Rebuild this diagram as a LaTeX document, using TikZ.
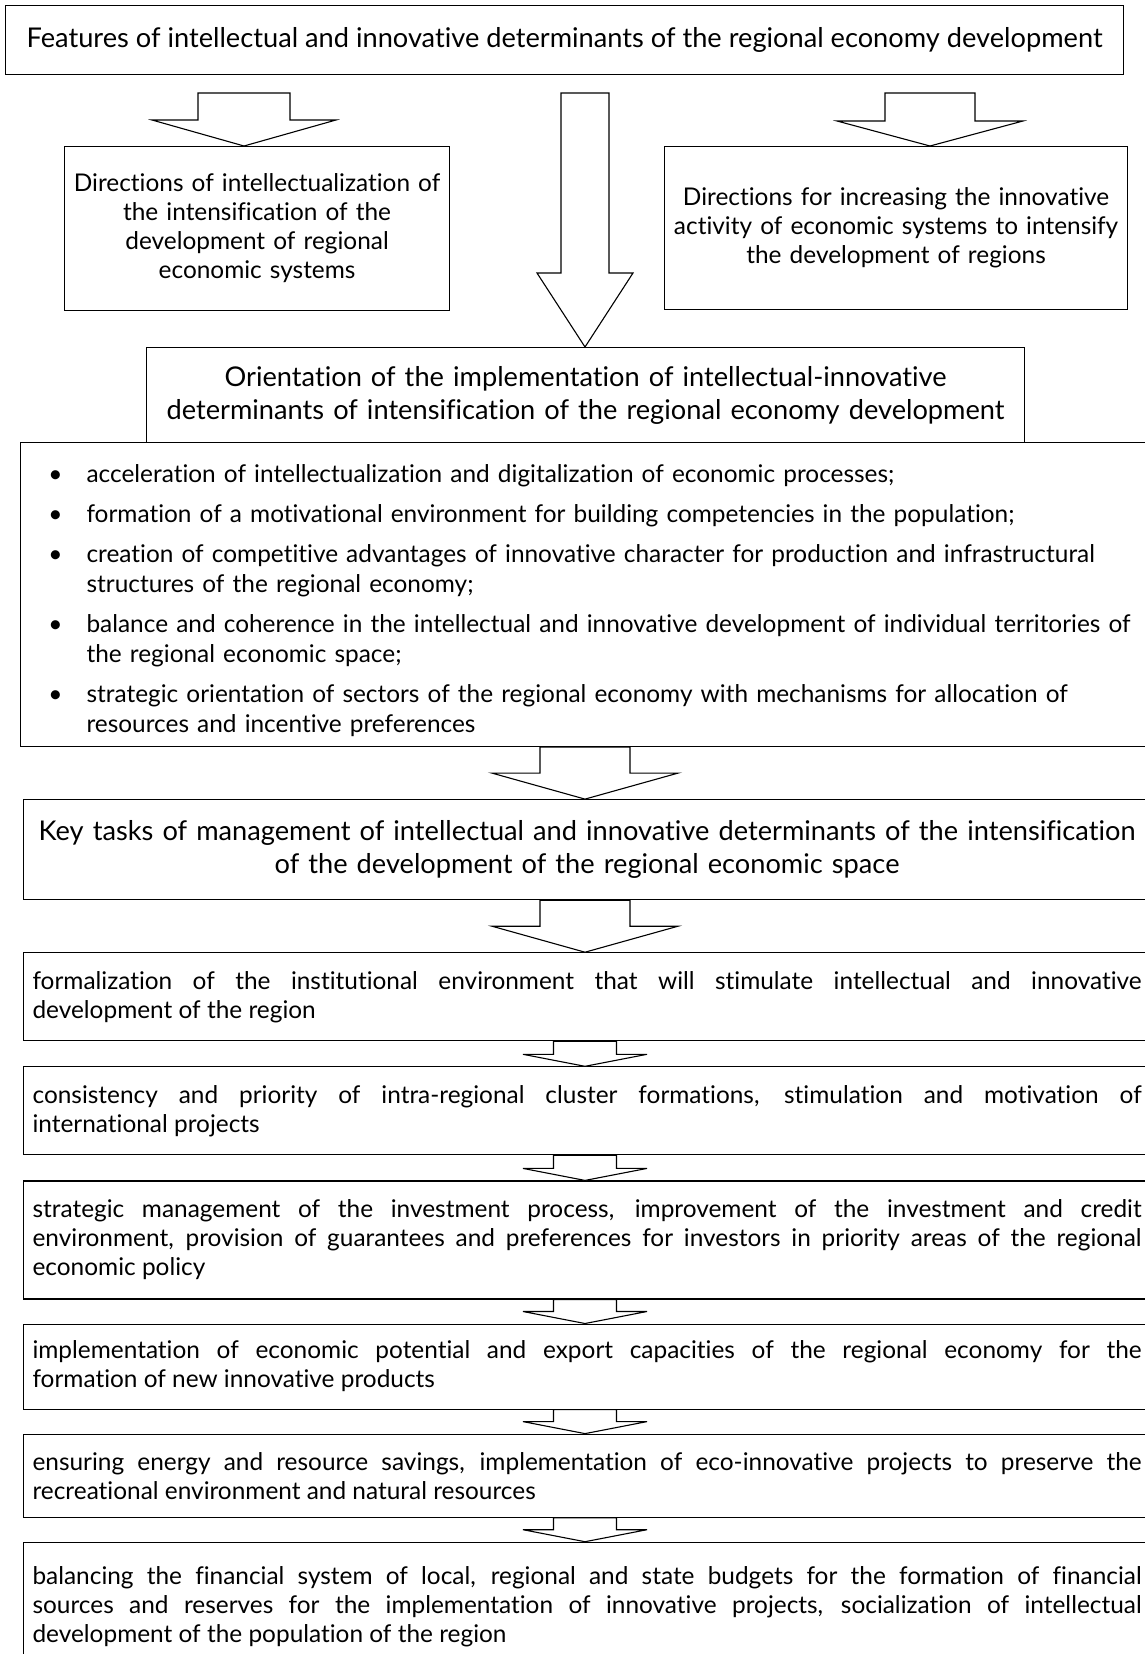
\documentclass[tikz,border=0pt]{standalone}
\usepackage{fontspec}
\setmainfont{Lato}[Ligatures=NoCommon]
\usepackage{enumitem}
\usetikzlibrary{calc,positioning,math}
\hyphenpenalty=10000
\exhyphenpenalty=10000

% block arrow: top point, tip point, half body, half head, head length
\newcommand{\blockarrow}[5]{%
  \draw[arrowline] ($(#1)+(-#3,0)$) -- ($(#2)+(-#3,#5)$) -- ($(#2)+(-#4,#5)$) -- (#2)
    -- ($(#2)+(#4,#5)$) -- ($(#2)+(#3,#5)$) -- ($(#1)+(#3,0)$) -- cycle;}

\begin{document}
\begin{tikzpicture}[x=1pt,y=1pt]

\tikzmath{
	\mx = 585;
}

\tikzset{
  box/.style={draw, line width=1.1pt, inner sep=0pt, align=center, anchor=north west},
  headfont/.style={font=\fontsize{27.2}{33}\selectfont},
  bodyfont/.style={font=\fontsize{24.4}{29}\selectfont},
  task/.style={box, bodyfont, minimum width=1127, text width=1109, inner xsep=8pt, align=justify},
  arrowline/.style={draw, fill=white, line width=1.1pt, line join=miter}
}

\useasboundingbox (0,0) rectangle (1145,-1654);

\node[box, headfont, minimum width=1118, minimum height=69] (feat) at (5,-5)
  {Features of intellectual and innovative determinants of the regional economy development};

\node[box, bodyfont, minimum width=385, minimum height=164, text width=380] (dirL) at (64,-146)
  {Directions of intellectualization of\\ the intensification of the\\ development of regional\\ economic systems};

\node[box, bodyfont, minimum width=463, minimum height=163, text width=460] (dirR) at (664,-146)
  {Directions for increasing the innovative\\ activity of economic systems to intensify\\ the development of regions};

\node[box, headfont, minimum width=878, minimum height=95, text width=870] (orient) at (146,-347)
  {Orientation of the implementation of intellectual-innovative\\ determinants of intensification of the regional economy development};

\node[box, font=\fontsize{24.4}{30}\selectfont, minimum width=1130, minimum height=304, text width=1130, align=left] (list) at (20,-442)
  {\begin{itemize}[leftmargin=66pt, labelsep=24pt, itemsep=10pt, topsep=0pt, partopsep=0pt, parsep=0pt]
   \item acceleration of intellectualization and digitalization of economic processes;
   \item formation of a motivational environment for building competencies in the population;
   \item creation of competitive advantages of innovative character for production and infrastructural\newline structures of the regional economy;
   \item balance and coherence in the intellectual and innovative development of individual territories of\newline the regional economic space;
   \item strategic orientation of sectors of the regional economy with mechanisms for allocation of\newline resources and incentive preferences
   \end{itemize}};

\node[box, headfont, minimum width=1127, minimum height=100, text width=1120, below=52pt of list.south west, anchor=north west, xshift=3pt] (key)
  {Key tasks of management of intellectual and innovative determinants of the intensification\\ of the development of the regional economic space};

\node[task, minimum height=88, below=52pt of key.south west, anchor=north west] (t1)
  {formalization of the institutional environment that will stimulate intellectual and innovative\linebreak development of the region};
\node[task, minimum height=88, below=25pt of t1.south west, anchor=north west] (t2)
  {consistency and priority of intra-regional cluster formations, stimulation and motivation of\linebreak international projects};
\node[task, minimum height=118, below=25pt of t2.south west, anchor=north west] (t3)
  {strategic management of the investment process, improvement of the investment and credit\linebreak environment, provision of guarantees and preferences for investors in priority areas of the regional\linebreak economic policy};
\node[task, minimum height=85, below=24pt of t3.south west, anchor=north west] (t4)
  {implementation of economic potential and export capacities of the regional economy for the\linebreak formation of new innovative products};
\node[task, minimum height=83, below=24pt of t4.south west, anchor=north west] (t5)
  {ensuring energy and resource savings, implementation of eco-innovative projects to preserve the\linebreak recreational environment and natural resources};
\node[task, minimum height=128, below=24pt of t5.south west, anchor=north west] (t6)
  {balancing the financial system of local, regional and state budgets for the formation of financial\linebreak sources and reserves for the implementation of innovative projects, socialization of intellectual\linebreak development of the population of the region};

% arrows
\coordinate (axis) at (\mx,0);
\coordinate (aL) at (244,-93);
\coordinate (aLtip) at (aL |- dirL.north);
\blockarrow{aL}{aLtip}{46}{92}{26}
\coordinate (aR) at (930,-93);
\coordinate (aRtip) at (aR |- dirR.north);
\blockarrow{aR}{aRtip}{45}{93}{25}
\coordinate (aM) at (\mx,-93);
\coordinate (aMtip) at (aM |- orient.north);
\blockarrow{aM}{aMtip}{24}{48}{74}

\foreach \a/\b in {list/key, key/t1}{
  \coordinate (s) at (axis |- \a.south);
  \coordinate (e) at (axis |- \b.north);
  \blockarrow{s}{e}{45}{93}{26}
}
\foreach \a/\b in {t1/t2, t2/t3, t3/t4, t4/t5, t5/t6}{
  \coordinate (s) at (axis |- \a.south);
  \coordinate (e) at (axis |- \b.north);
  \blockarrow{s}{e}{31.5}{62}{12}
}

\end{tikzpicture}
\end{document}
